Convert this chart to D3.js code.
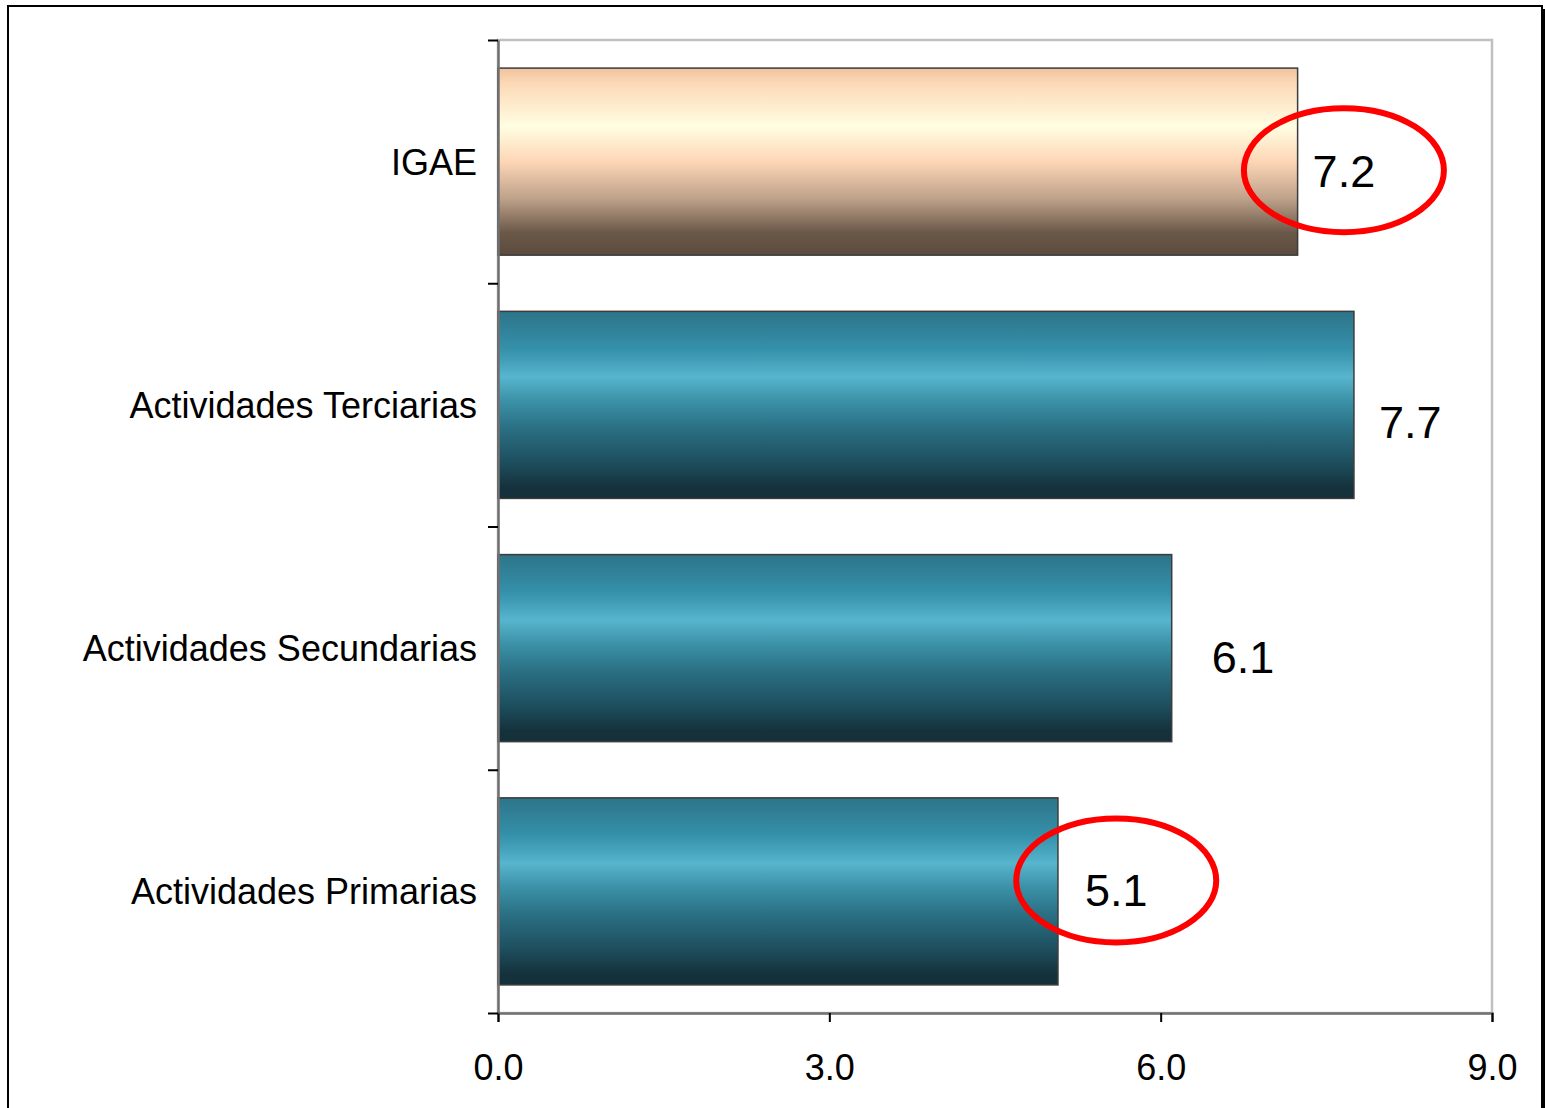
<!DOCTYPE html>
<html>
<head>
<meta charset="utf-8">
<script src="https://cdn.jsdelivr.net/npm/d3@7"></script>
<style>
  body { margin: 0; background: #fff; }
  svg { display: block; }
  text { font-family: "Liberation Sans", Arial, sans-serif; fill: #000; }
</style>
</head>
<body>
<svg id="chart" width="1545" height="1108"></svg>
<script>
// data (bar lengths, labels as printed on the slide)
var categories = ["IGAE", "Actividades Terciarias", "Actividades Secundarias", "Actividades Primarias"];
var values = [7.24, 7.75, 6.10, 5.07];
var valueLabels = ["7.2", "7.7", "6.1", "5.1"];
var xTicks = [0, 3, 6, 9];
var highlighted = ["IGAE", "Actividades Primarias"];

// hand placed label nudges (px), like the original slide
var labelDx = [15, 25, 40, 27];
var labelDy = [8.5, 17, 8.5, -2];
var ellipseDy = [0, 0, 0, -9];

var svg = d3.select("#chart");
// note: "top" is taken by window.top, so use plot* names
var plotLeft = 498, plotRight = 1492, plotTop = 40, plotBottom = 1013;

var x = d3.scaleLinear().domain([0, 9]).range([plotLeft, plotRight]);
var y = d3.scaleBand().domain(categories).range([plotTop, plotBottom])
    .paddingInner(0.231).paddingOuter(0.1155);

var defs = svg.append("defs");

function grad(id, stops) {
    var g = defs.append("linearGradient").attr("id", id)
        .attr("x1", 0).attr("y1", 0).attr("x2", 0).attr("y2", 1);
    stops.forEach(function(s) {
        g.append("stop").attr("offset", s[0]).attr("stop-color", s[1]);
    });
}
grad("tan", [[0, "#f0c29e"], [0.08, "#fcd8b6"], [0.31, "#fffee2"], [0.5, "#fdd6b6"],
             [0.7, "#bda189"], [0.88, "#6a5848"], [1, "#5c4b3e"]]);
grad("teal", [[0, "#2d7489"], [0.2, "#3590aa"], [0.35, "#57b5cd"], [0.48, "#3b91a7"],
              [0.62, "#2b7084"], [0.8, "#1e5060"], [0.94, "#15323c"], [1, "#14303a"]]);

// outer frame with shadow
svg.append("rect").attr("x", 11).attr("y", 9).attr("width", 1534).attr("height", 1130)
    .attr("fill", "#000");
svg.append("rect").attr("x", 8).attr("y", 6).attr("width", 1534).attr("height", 1130)
    .attr("fill", "#fff").attr("stroke", "#000").attr("stroke-width", 2);

// plot area border
svg.append("rect").attr("x", plotLeft).attr("y", plotTop)
    .attr("width", plotRight - plotLeft).attr("height", plotBottom - plotTop)
    .attr("fill", "none").attr("stroke", "#c0c0c0").attr("stroke-width", 2.5);

// bars
svg.append("g").selectAll("rect")
    .data(categories)
    .enter()
    .append("rect")
    .attr("x", x(0))
    .attr("y", function(d) { return y(d); })
    .attr("width", function(d, i) { return x(values[i]) - x(0); })
    .attr("height", y.bandwidth())
    .attr("fill", function(d, i) { return i == 0 ? "url(#tan)" : "url(#teal)"; })
    .attr("stroke", "#3c3c3c")
    .attr("stroke-width", 1.5);

// axes
var xAxis = svg.append("g")
    .attr("transform", "translate(0," + plotBottom + ")")
    .call(d3.axisBottom(x).tickValues(xTicks).tickFormat(d3.format(".1f"))
        .tickSize(9).tickPadding(32));
xAxis.select(".domain").attr("stroke", "#707070").attr("stroke-width", 2.5);
xAxis.selectAll(".tick line").attr("stroke", "#000").attr("stroke-width", 2);
xAxis.selectAll("text").style("font-size", "36px").attr("fill", "#000");

var yLin = d3.scaleLinear().domain([0, categories.length]).range([plotBottom, plotTop]);
var yAxis = svg.append("g")
    .attr("transform", "translate(" + plotLeft + ",0)")
    .call(d3.axisLeft(yLin).tickValues(d3.range(categories.length + 1))
        .tickFormat("").tickSize(10).tickSizeOuter(0));
yAxis.select(".domain").attr("stroke", "#707070").attr("stroke-width", 2.5);
yAxis.selectAll(".tick line").attr("stroke", "#000").attr("stroke-width", 2);

// category labels
svg.append("g").selectAll("text")
    .data(categories)
    .enter()
    .append("text")
    .attr("x", 477)
    .attr("y", function(d) { return y(d) + y.bandwidth() / 2 + 13; })
    .attr("text-anchor", "end")
    .style("font-size", "36px")
    .text(function(d) { return d; });

// value labels
var labels = svg.append("g").selectAll("text")
    .data(categories)
    .enter()
    .append("text")
    .attr("x", function(d, i) { return x(values[i]) + labelDx[i]; })
    .attr("y", function(d, i) { return y(d) + y.bandwidth() / 2 + labelDy[i] + 16.5; })
    .style("font-size", "45px")
    .text(function(d, i) { return valueLabels[i]; });

// red ellipses round the highlighted labels
labels.each(function(d, i) {
    if (highlighted.indexOf(d) < 0) return;
    var b = this.getBBox();
    svg.append("ellipse")
        .attr("cx", b.x + b.width / 2)
        .attr("cy", y(d) + y.bandwidth() / 2 + labelDy[i] + ellipseDy[i])
        .attr("rx", 100)
        .attr("ry", 62)
        .attr("fill", "none")
        .attr("stroke", "#ff0000")
        .attr("stroke-width", 6);
});
</script>
</body>
</html>
